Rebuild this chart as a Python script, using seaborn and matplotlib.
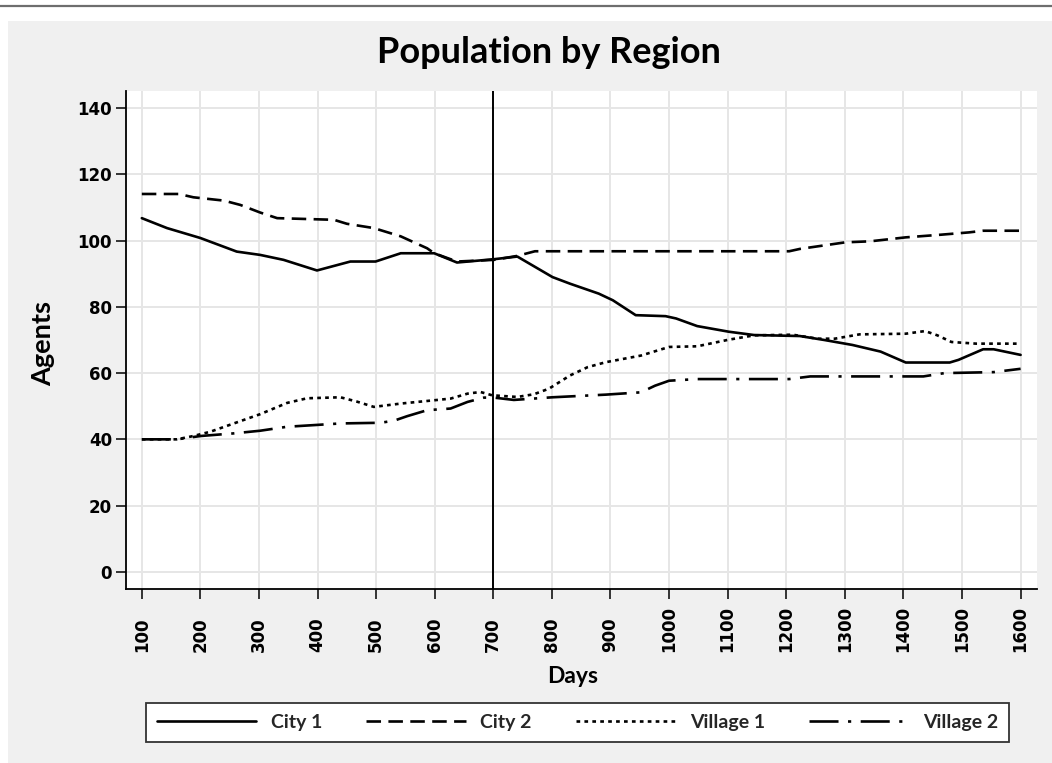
import matplotlib
matplotlib.use("Agg")
import matplotlib.pyplot as plt
from matplotlib.patches import Rectangle
from matplotlib.lines import Line2D
import seaborn as sns
import pandas as pd

# ---------------- data ----------------
city1_days = [100, 143, 200, 262, 302, 342, 399, 456, 499, 542, 599, 638, 701, 741, 801, 831, 880, 904,
              943, 994, 1012, 1048, 1102, 1145, 1223, 1265, 1313, 1361, 1404, 1479, 1494, 1536, 1554, 1600]
city1_vals = [106.8, 103.8, 100.8, 96.7, 95.7, 94.2, 91.0, 93.7, 93.7, 96.2, 96.2, 93.4, 94.4, 95.2, 89.0,
              87.0, 84.0, 82.0, 77.5, 77.2, 76.5, 74.2, 72.5, 71.5, 71.2, 70.0, 68.5, 66.5, 63.2, 63.2,
              64.0, 67.2, 67.2, 65.5]

city2_days = [100, 163, 188, 240, 268, 302, 331, 428, 450, 496, 542, 587, 599, 638, 701, 741, 771, 1205,
              1223, 1301, 1343, 1404, 1464, 1512, 1536, 1600]
city2_vals = [114.1, 114.1, 113.1, 112.1, 110.8, 108.5, 106.8, 106.3, 105.1, 103.8, 101.3, 97.7, 96.2,
              93.7, 94.2, 95.4, 96.8, 96.8, 97.5, 99.5, 99.8, 101.0, 101.8, 102.5, 103.0, 103.0]

village1_days = [100, 160, 188, 217, 257, 302, 348, 382, 439, 467, 496, 542, 599, 627, 656, 678, 698, 741,
                 769, 795, 831, 861, 892, 952, 1000, 1048, 1102, 1145, 1211, 1253, 1283, 1325, 1404, 1437,
                 1458, 1482, 1524, 1600]
village1_vals = [40.0, 40.0, 41.0, 42.3, 44.8, 47.6, 51.0, 52.4, 52.7, 51.4, 49.8, 50.8, 51.8, 52.3, 53.8,
                 54.3, 53.3, 52.8, 53.6, 55.3, 59.3, 61.8, 63.3, 65.3, 67.9, 68.1, 70.1, 71.4, 71.6, 70.4,
                 70.4, 71.7, 71.9, 72.7, 71.4, 69.4, 68.9, 68.9]

village2_days = [100, 160, 200, 257, 302, 348, 394, 439, 507, 530, 553, 587, 627, 656, 684, 701, 735, 801,
                 892, 952, 976, 1000, 1048, 1205, 1241, 1434, 1470, 1554, 1600]
village2_vals = [40.0, 40.0, 41.0, 41.8, 42.6, 43.8, 44.3, 44.8, 45.0, 45.6, 47.0, 48.8, 49.3, 51.3, 52.6,
                 52.6, 51.9, 52.7, 53.5, 54.2, 56.2, 57.7, 58.2, 58.2, 59.0, 59.0, 60.0, 60.3, 61.3]

regions = ["City 1", "City 2", "Village 1", "Village 2"]
x_ticks = list(range(100, 1700, 100))
y_ticks = list(range(0, 160, 20))
marker_day = 700

# ---------------- build frame ----------------
frames = []
for name, d, v in zip(regions,
                      [city1_days, city2_days, village1_days, village2_days],
                      [city1_vals, city2_vals, village1_vals, village2_vals]):
    frames.append(pd.DataFrame({"Days": d, "Agents": v, "Region": name}))
df = pd.concat(frames, ignore_index=True)

# ---------------- style ----------------
sns.set_theme(style="white")
plt.rcParams["font.family"] = ["Lato", "DejaVu Sans"]

W, H = 1052, 763
fig = plt.figure(figsize=(W / 100, H / 100), dpi=100, facecolor="white")
# grey panel + top rule
fig.add_artist(Rectangle((8 / W, 0), 1 - 8 / W, 1 - 21 / H, transform=fig.transFigure,
                         facecolor="#f0f0f0", edgecolor="none", zorder=-10))
fig.add_artist(Line2D([0, 1], [1 - 6 / H, 1 - 6 / H], transform=fig.transFigure,
                      color="#6e6e6e", lw=1.6, zorder=-5))

ax = fig.add_axes([126 / W, 1 - 589 / H, (1037 - 126) / W, (589 - 91) / H])
ax.set_facecolor("white")

dash_map = {
    "City 1": "",
    "City 2": (5.5, 2.8),
    "Village 1": (1.4, 1.6),
    "Village 2": (11, 3.6, 1.2, 3.6),
}
sns.lineplot(data=df, x="Days", y="Agents", style="Region", style_order=regions,
             dashes=dash_map, color="black", linewidth=1.9, sort=False, ax=ax, legend=False)

ax.axvline(marker_day, color="black", lw=1.4, zorder=3)

ax.set_xlim(73, 1628)
ax.set_ylim(-5.2, 145.2)
ax.set_xticks(x_ticks)
ax.set_yticks(y_ticks)
ax.grid(True, color="#e6e6e6", lw=1.4)
ax.set_axisbelow(True)

for s in ["top", "right"]:
    ax.spines[s].set_visible(False)
for s in ["left", "bottom"]:
    ax.spines[s].set_color("black")
    ax.spines[s].set_linewidth(1.3)

ax.tick_params(axis="both", which="major", direction="out", length=7, width=1.1, color="black",
               bottom=True, left=True)
ax.tick_params(axis="y", pad=3)
ax.tick_params(axis="x", pad=38)

ax.set_xticklabels([str(t) for t in x_ticks])
ax.set_yticklabels([str(t) for t in y_ticks])
for lab in ax.get_xticklabels():
    lab.set_rotation(90)
    lab.set_rotation_mode("anchor")
    lab.set_ha("left")
    lab.set_va("center")
    lab.set_fontfamily(["DejaVu Sans"])
    lab.set_fontweight("bold")
    lab.set_fontsize(12)
    lab.set_color("black")
for lab in ax.get_yticklabels():
    lab.set_fontfamily(["DejaVu Sans"])
    lab.set_fontweight("bold")
    lab.set_fontsize(12)
    lab.set_color("black")

ax.set_xlabel("")
ax.set_ylabel("")

# titles / axis labels
fig.text(549 / W, 1 - 63 / H, "Population by Region", ha="center", va="baseline",
         fontsize=26, fontweight="bold", color="black")
fig.text(43 / W, 1 - 343 / H, "Agents", rotation=90, ha="center", va="center",
         fontsize=19.5, fontweight="bold", color="black")
fig.text(573 / W, 1 - 683 / H, "Days", ha="center", va="baseline",
         fontsize=16.5, fontweight="bold", color="black")

# legend
handles = ax.lines[:4]
leg = fig.legend(handles, regions, loc="center", bbox_to_anchor=(577.5 / W, 1 - 722.5 / H),
                 ncol=4, frameon=True, fancybox=False, prop={"family": ["Lato"], "weight": "bold", "size": 14},
                 handlelength=5.1, handletextpad=0.77, columnspacing=2.25, borderpad=0.56)
leg.get_frame().set_edgecolor("#333333")
leg.get_frame().set_linewidth(1.3)
leg.get_frame().set_facecolor("white")
leg.get_frame().set_alpha(1)

fig.savefig("out.png", dpi=100, facecolor=fig.get_facecolor())
